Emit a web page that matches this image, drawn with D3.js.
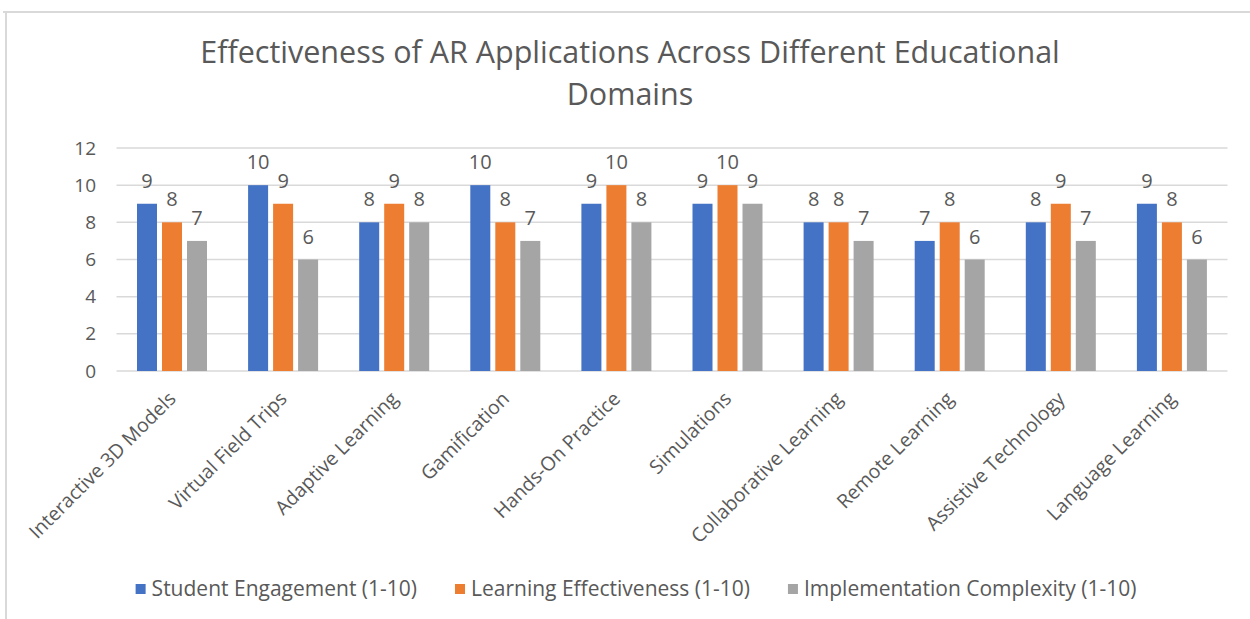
<!DOCTYPE html>
<html>
<head>
<meta charset="utf-8">
<script src="https://cdn.jsdelivr.net/npm/d3@7"></script>
<style>
  body { margin: 0; background: #fff; }
  svg { display: block; font-family: "Open Sans", sans-serif; }
</style>
</head>
<body>
<svg id="chart" width="1250" height="619"></svg>
<script>
const categories = ["Interactive 3D Models", "Virtual Field Trips", "Adaptive Learning", "Gamification",
  "Hands-On Practice", "Simulations", "Collaborative Learning", "Remote Learning",
  "Assistive Technology", "Language Learning"];
const seriesNames = ["Student Engagement (1-10)", "Learning Effectiveness (1-10)", "Implementation Complexity (1-10)"];
const engagement = [9, 10, 8, 10, 9, 9, 8, 7, 8, 9];
const effectiveness = [8, 9, 9, 8, 10, 10, 8, 8, 9, 8];
const complexity = [7, 6, 8, 7, 8, 9, 7, 6, 7, 6];
const yTicks = [0, 2, 4, 6, 8, 10, 12];

const colors = ["#4472C4", "#ED7D31", "#A5A5A5"];
const textColor = "#595959";
const gridColor = "#d9d9d9";

const svg = d3.select("#chart");

// frame lines of the chart area
svg.append("line").attr("x1", 3).attr("x2", 1250).attr("y1", 12).attr("y2", 12)
  .attr("stroke", gridColor).attr("stroke-width", 2);
svg.append("line").attr("x1", 6).attr("x2", 6).attr("y1", 12).attr("y2", 619)
  .attr("stroke", gridColor).attr("stroke-width", 2);

// title
const title = svg.append("text")
  .attr("text-anchor", "middle")
  .attr("fill", textColor)
  .attr("font-size", 30.5);
title.append("tspan").attr("x", 630).attr("y", 63).text("Effectiveness of AR Applications Across Different Educational");
title.append("tspan").attr("x", 630).attr("y", 105).text("Domains");

const x0 = d3.scaleBand().domain(categories).range([116.5, 1227.5]).padding(0);
const x1 = d3.scaleBand().domain(seriesNames).range([20.5, 90.5]).paddingInner(0.2);
const y = d3.scaleLinear().domain([0, 12]).range([371, 148]);

// gridlines
svg.append("g")
  .selectAll("line")
  .data(yTicks)
  .join("line")
  .attr("x1", 116.5)
  .attr("x2", 1227.5)
  .attr("y1", d => y(d))
  .attr("y2", d => y(d))
  .attr("stroke", gridColor)
  .attr("stroke-width", 1.5);

// y axis labels
svg.append("g")
  .selectAll("text")
  .data(yTicks)
  .join("text")
  .attr("x", 96)
  .attr("y", d => y(d))
  .attr("dy", "0.35em")
  .attr("text-anchor", "end")
  .attr("fill", textColor)
  .attr("font-size", 19)
  .text(d => d);

const table = categories.map((c, i) => ({
  cat: c,
  values: [engagement[i], effectiveness[i], complexity[i]]
}));

const groups = svg.append("g")
  .selectAll("g")
  .data(table)
  .join("g")
  .attr("transform", d => `translate(${x0(d.cat)},0)`);

groups.selectAll("rect")
  .data(d => d.values.map((v, k) => ({ v, k })))
  .join("rect")
  .attr("x", d => x1(seriesNames[d.k]))
  .attr("width", x1.bandwidth())
  .attr("y", d => y(d.v))
  .attr("height", d => y(0) - y(d.v))
  .attr("fill", d => colors[d.k]);

groups.selectAll("text.value")
  .data(d => d.values.map((v, k) => ({ v, k })))
  .join("text")
  .attr("class", "value")
  .attr("x", d => x1(seriesNames[d.k]) + x1.bandwidth() / 2)
  .attr("y", d => y(d.v) - 16)
  .attr("text-anchor", "middle")
  .attr("fill", textColor)
  .attr("font-size", 20)
  .text(d => d.v);

// category labels, rotated
svg.append("g")
  .selectAll("text")
  .data(categories)
  .join("text")
  .attr("transform", d => `translate(${x0(d) + x0.bandwidth() / 2 + 5},400) rotate(-45)`)
  .attr("text-anchor", "end")
  .attr("fill", textColor)
  .attr("font-size", 19.5)
  .text(d => d);

// legend
const legend = svg.append("g");
const items = legend.selectAll("g")
  .data(seriesNames)
  .join("g");
items.append("rect")
  .attr("y", 584)
  .attr("width", 10)
  .attr("height", 10)
  .attr("fill", (d, i) => colors[i]);
items.append("text")
  .attr("x", 16)
  .attr("y", 589)
  .attr("dy", "0.35em")
  .attr("fill", textColor)
  .attr("font-size", 21)
  .text(d => d);

let cursor = 0;
const offsets = [];
items.each(function () {
  offsets.push(cursor);
  cursor += 16 + this.querySelector("text").getComputedTextLength() + 38;
});
const total = cursor - 38;
const start = 636 - total / 2;
items.attr("transform", (d, i) => `translate(${start + offsets[i]},0)`);
</script>
</body>
</html>
